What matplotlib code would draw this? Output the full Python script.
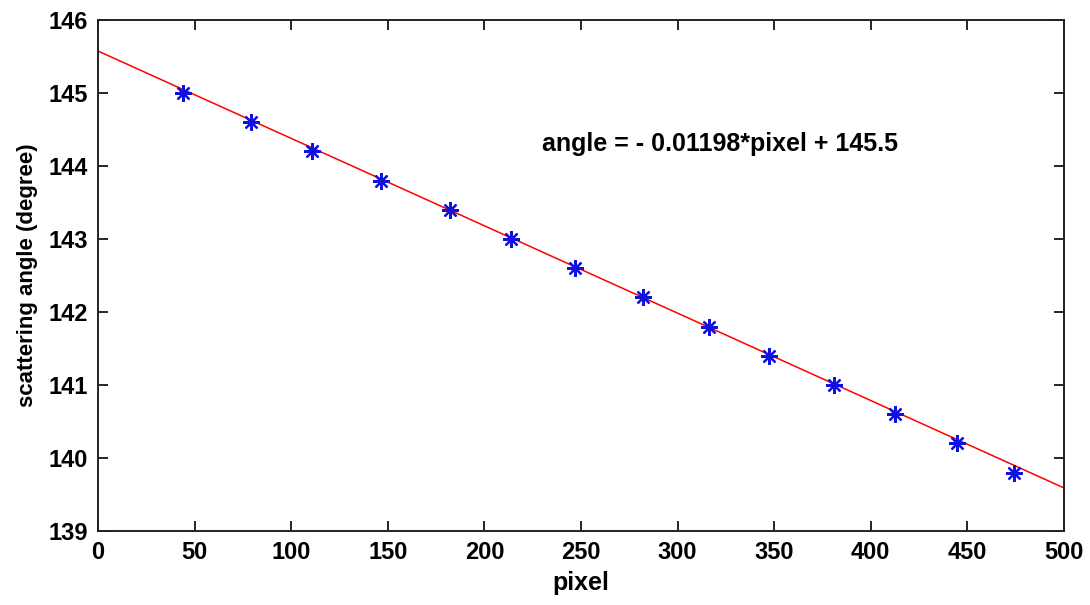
import matplotlib
matplotlib.use("Agg")
import matplotlib.pyplot as plt
import numpy as np

plt.rcParams['font.family'] = ['Liberation Sans', 'DejaVu Sans']
plt.rcParams['font.weight'] = 'bold'

pixel = [44, 79, 111, 146.5, 182, 214, 247, 282, 316, 347.5, 381, 412.5, 444.5, 474]
angle = [145.0, 144.6, 144.2, 143.8, 143.4, 143.0, 142.6, 142.2, 141.8, 141.4, 141.0, 140.6, 140.2, 139.8]
fit_slope = -0.01197
fit_intercept = 145.575
fit_range = [0, 500]
xticks = [0, 50, 100, 150, 200, 250, 300, 350, 400, 450, 500]
yticks = [139, 140, 141, 142, 143, 144, 145, 146]
equation = "angle = - 0.01198*pixel + 145.5"

fig = plt.figure(figsize=(10.9, 6.05), dpi=100)
ax = fig.add_axes([98/1090, 1 - 531/605, (1064-98)/1090, (531-20)/605])

xf = np.array(fit_range, dtype=float)
ax.plot(xf, fit_slope * xf + fit_intercept, color='red', lw=1.1)
ax.plot(pixel, angle, linestyle='none', marker=(8, 2, 0), markersize=12,
        markeredgewidth=1.6, color='#1010e0')

ax.set_xlim(0, 500)
ax.set_ylim(139, 146)
ax.set_xticks(xticks)
ax.set_yticks(yticks)
ax.tick_params(direction='in', top=True, right=True, length=7, width=1.2,
               labelsize=17, pad=7)
for lbl in ax.get_xticklabels() + ax.get_yticklabels():
    lbl.set_fontweight('bold')
for s in ax.spines.values():
    s.set_linewidth(1.4)
    s.set_color('#222222')

ax.set_xlabel('pixel', fontsize=18, fontweight='bold', labelpad=5)
ax.set_ylabel('scattering angle (degree)', fontsize=16, fontweight='bold', labelpad=8)
ax.text(230, 144.3, equation, fontsize=18, fontweight='bold', va='center', ha='left')

fig.savefig('out.png', dpi=100)
